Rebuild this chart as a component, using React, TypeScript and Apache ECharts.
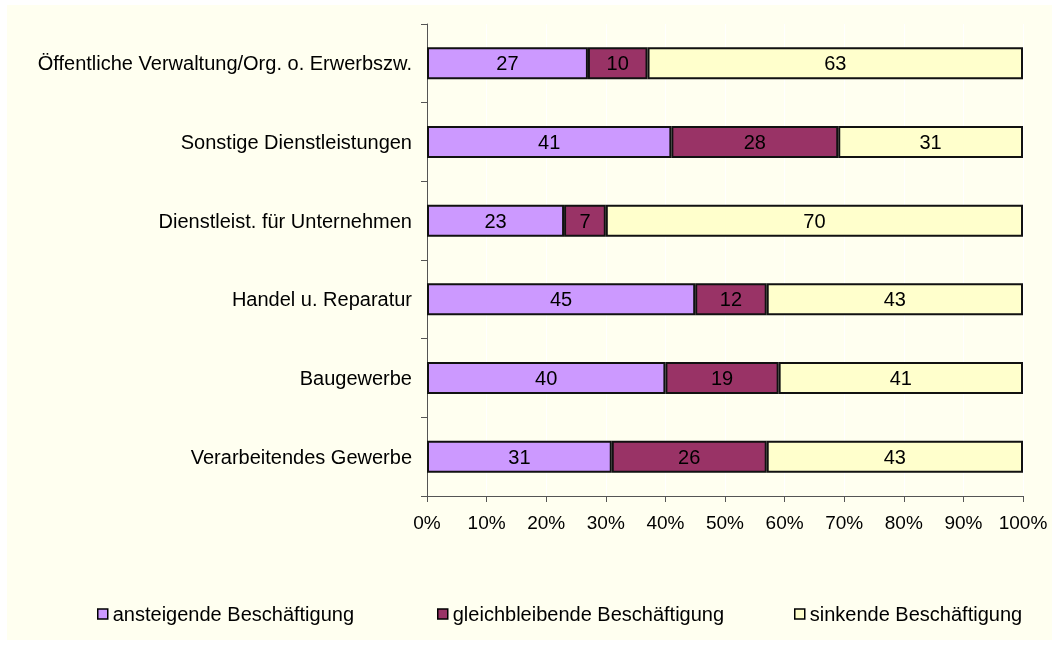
import React, { useEffect, useRef } from "react";
import * as echarts from "echarts";

const categories = [
  "Öffentliche Verwaltung/Org. o. Erwerbszw.",
  "Sonstige Dienstleistungen",
  "Dienstleist. für Unternehmen",
  "Handel u. Reparatur",
  "Baugewerbe",
  "Verarbeitendes Gewerbe",
];
const seriesNames = [
  "ansteigende Beschäftigung",
  "gleichbleibende Beschäftigung",
  "sinkende Beschäftigung",
];
const ansteigend = [27, 41, 23, 45, 40, 31];
const gleichbleibend = [10, 28, 7, 12, 19, 26];
const sinkend = [63, 31, 70, 43, 41, 43];
const colors = ["#CC99FF", "#993366", "#FFFFCC"];

const FONT = "Liberation Sans, Arial, sans-serif";

export default function App() {
  const ref = useRef<HTMLDivElement>(null);
  useEffect(() => {
    if (!ref.current) return;
    const chart = echarts.init(ref.current, undefined, { renderer: "svg" });
    const values = [ansteigend, gleichbleibend, sinkend];
    const legendLefts = [92, 432, 789];
    chart.setOption({
      animation: false,
      textStyle: { fontFamily: FONT },
      graphic: [
        {
          type: "rect",
          z: -10,
          silent: true,
          shape: { x: 7, y: 5, width: 1045, height: 635 },
          style: { fill: "#FFFFF0" },
        },
      ],
      grid: { left: 427, right: 29, top: 24, bottom: 153, containLabel: false },
      legend: seriesNames.map((n, i) => ({
        data: [n],
        left: legendLefts[i],
        top: 599,
        itemWidth: 10,
        itemHeight: 10,
        itemGap: 4,
        icon: "rect",
        textStyle: { fontSize: 20, color: "#000", fontFamily: FONT },
        itemStyle: { borderColor: "#000", borderWidth: 1.5 },
      })),
      xAxis: {
        type: "value",
        min: 0,
        max: 100,
        interval: 10,
        axisLine: { show: true, lineStyle: { color: "#555", width: 1 } },
        axisTick: { show: true, length: 6, lineStyle: { color: "#555" } },
        axisLabel: {
          formatter: "{value}%",
          fontSize: 19,
          color: "#000",
          margin: 17,
          fontFamily: FONT,
        },
        splitLine: { show: true, lineStyle: { color: "#FFFFFF", width: 1 } },
      },
      yAxis: {
        type: "category",
        data: categories,
        inverse: true,
        axisLine: { show: true, lineStyle: { color: "#555", width: 1 } },
        axisTick: { show: true, length: 6, alignWithLabel: false, lineStyle: { color: "#555" } },
        axisLabel: { fontSize: 20, color: "#000", margin: 15, fontFamily: FONT },
        splitLine: { show: false },
      },
      series: seriesNames.map((n, i) => ({
        name: n,
        type: "bar",
        stack: "total",
        data: values[i],
        barWidth: 32,
        itemStyle: { color: colors[i], borderColor: "#111", borderWidth: 2 },
        label: {
          show: true,
          position: "inside",
          color: "#000",
          fontSize: 20,
          fontFamily: FONT,
        },
      })),
    });
    return () => chart.dispose();
  }, []);
  return (
    <div
      ref={ref}
      style={{ position: "fixed", left: 0, top: 0, width: 1052, height: 649 }}
    />
  );
}
